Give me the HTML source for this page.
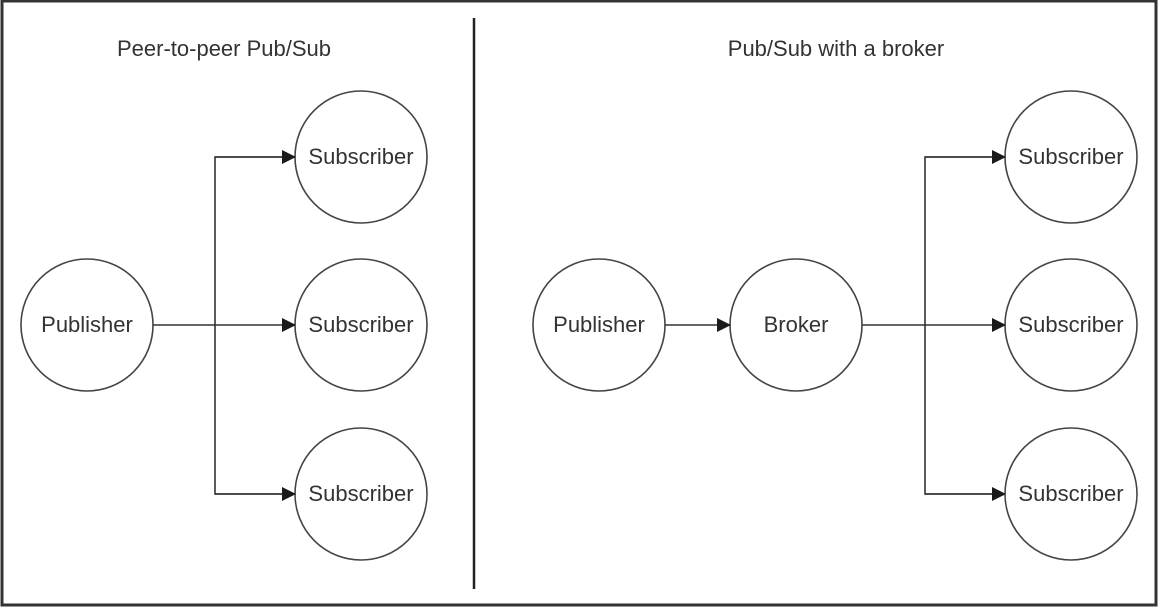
<!DOCTYPE html>
<html><head><style>
html,body{margin:0;padding:0;background:#fff;}
svg{display:block;}
text{font-family:"Liberation Sans",Arial,sans-serif;font-size:22px;fill:#333;}
</style></head><body>
<svg width="1160" height="608" viewBox="0 0 1160 608">
<defs><marker id="a" markerWidth="14" markerHeight="14" refX="13" refY="7" orient="auto" markerUnits="userSpaceOnUse"><path d="M0,0 L14,7 L0,14 Z" fill="#1a1a1a"/></marker></defs>
<rect x="0" y="0" width="1160" height="608" fill="#fff"/>
<rect x="2" y="1" width="1154" height="604" fill="none" stroke="#333" stroke-width="3"/>
<line x1="474" y1="18" x2="474" y2="589" stroke="#222" stroke-width="2.5"/>
<text x="224" y="56" text-anchor="middle">Peer-to-peer Pub/Sub</text>
<text x="836" y="56" text-anchor="middle">Pub/Sub with a broker</text>
<g fill="none" stroke="#444" stroke-width="1.6">
<circle cx="87" cy="325" r="66"/>
<circle cx="361" cy="157" r="66"/>
<circle cx="361" cy="325" r="66"/>
<circle cx="361" cy="494" r="66"/>
<circle cx="599" cy="325" r="66"/>
<circle cx="796" cy="325" r="66"/>
<circle cx="1071" cy="157" r="66"/>
<circle cx="1071" cy="325" r="66"/>
<circle cx="1071" cy="494" r="66"/>
</g>
<g fill="none" stroke="#333" stroke-width="1.6">
<line x1="153" y1="325" x2="295" y2="325" marker-end="url(#a)"/>
<polyline points="295,157 215,157 215,494 295,494"/>
<line x1="215" y1="157" x2="295" y2="157" marker-end="url(#a)"/>
<line x1="215" y1="494" x2="295" y2="494" marker-end="url(#a)"/>
<line x1="665" y1="325" x2="730" y2="325" marker-end="url(#a)"/>
<line x1="862" y1="325" x2="1005" y2="325" marker-end="url(#a)"/>
<polyline points="1005,157 925,157 925,494 1005,494"/>
<line x1="925" y1="157" x2="1005" y2="157" marker-end="url(#a)"/>
<line x1="925" y1="494" x2="1005" y2="494" marker-end="url(#a)"/>
</g>
<g text-anchor="middle" style="font-size:21.5px">
<text x="87" y="332">Publisher</text>
<text x="361" y="164">Subscriber</text>
<text x="361" y="332">Subscriber</text>
<text x="361" y="501">Subscriber</text>
<text x="599" y="332">Publisher</text>
<text x="796" y="332">Broker</text>
<text x="1071" y="164">Subscriber</text>
<text x="1071" y="332">Subscriber</text>
<text x="1071" y="501">Subscriber</text>
</g>
</svg>
</body></html>
